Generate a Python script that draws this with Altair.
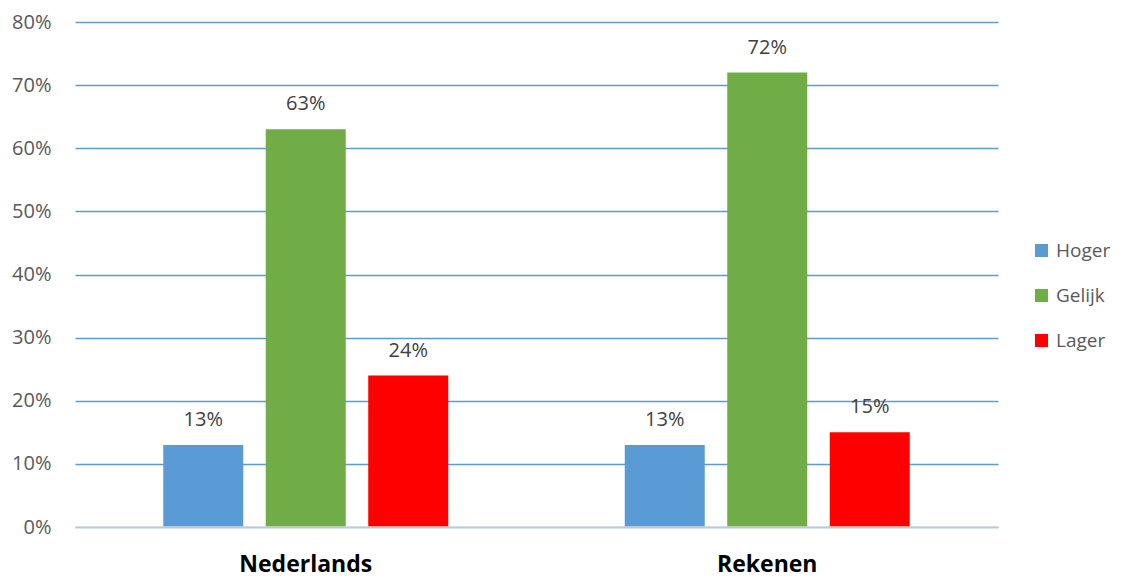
import altair as alt
import pandas as pd

subjects = ["Nederlands", "Rekenen"]
groups = ["Hoger", "Gelijk", "Lager"]
nederlands = [0.13, 0.63, 0.24]
rekenen = [0.13, 0.72, 0.15]
colors = ["#5B9BD5", "#70AD47", "#FF0000"]
y_ticks = [0, 0.1, 0.2, 0.3, 0.4, 0.5, 0.6, 0.7, 0.8]

rows = []
for s, vals in zip(subjects, [nederlands, rekenen]):
    for g, v in zip(groups, vals):
        rows.append({"vak": s, "groep": g, "waarde": v})
df = pd.DataFrame(rows)

FONT = "Open Sans"

x = alt.X(
    "vak:N", sort=subjects,
    scale=alt.Scale(paddingInner=0, paddingOuter=0),
    axis=alt.Axis(title=None, labelAngle=0, labelFont=FONT, labelFontWeight="bold",
                  labelFontSize=23, labelColor="#000000", labelPadding=26,
                  ticks=False, domain=False, grid=False),
)
xo = alt.XOffset("groep:N", sort=groups,
                 scale=alt.Scale(paddingInner=0.2195, paddingOuter=0.861))
y = alt.Y(
    "waarde:Q",
    scale=alt.Scale(domain=[0, 0.8], nice=False),
    axis=alt.Axis(format=".0%", values=y_ticks, title=None, labelFont=FONT,
                  labelFontSize=20, labelColor="#595959", labelPadding=24,
                  ticks=False, domain=False, grid=True, gridColor="#5B9BD5",
                  gridWidth=1.5),
)
color = alt.Color(
    "groep:N", sort=groups,
    scale=alt.Scale(domain=groups, range=colors),
    legend=alt.Legend(title=None, orient="none", legendX=957, legendY=219,
                      symbolType="square", symbolSize=169, symbolStrokeWidth=0,
                      labelFont=FONT, labelFontSize=19, labelColor="#595959",
                      rowPadding=25, labelOffset=5, padding=0),
)

base = alt.Chart(df)
bars = base.mark_bar().encode(x=x, xOffset=xo, y=y, color=color)
labels = base.mark_text(baseline="middle", dy=-25, font=FONT, fontSize=20,
                        color="#404040").encode(
    x=x, xOffset=xo, y=y, text=alt.Text("waarde:Q", format=".0%"))
zero = alt.Chart(pd.DataFrame({"v": [0]})).mark_rule(color="#D9D9D9", strokeWidth=1.5).encode(
    y=alt.datum(0))

chart = alt.layer(bars, zero, labels).properties(
    width=923, height=505,
    autosize=alt.AutoSizeParams(type="none"),
    padding={"left": 67, "top": 14, "right": 116, "bottom": 50},
).configure_view(stroke=None)

chart.save("out.html", embed_options={"renderer": "svg", "actions": False})
